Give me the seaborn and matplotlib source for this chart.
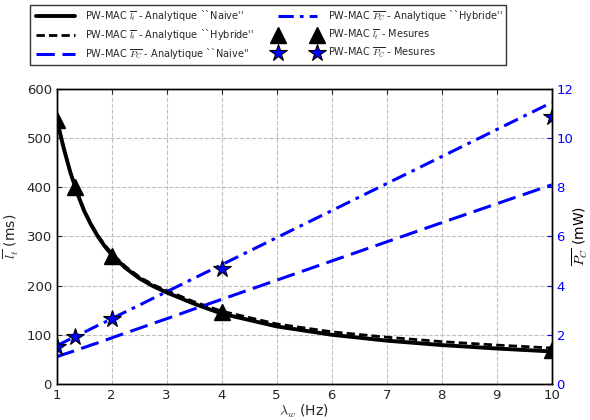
import numpy as np
import pandas as pd
import matplotlib as mpl
mpl.use("Agg")
import matplotlib.pyplot as plt
import seaborn as sns

# ── Data ────────────────────────────────────────────────────────────────────
LAMBDA = [1, 1.125, 1.25, 1.375, 1.5, 1.625, 1.75, 1.875, 2, 2.25, 2.5, 2.75, 3, 3.5, 4,
          5, 6, 7, 8, 9, 10]
LT_NAIVE = [540, 481, 430, 388, 352, 324, 300, 280, 263, 236, 215, 199, 186, 163, 143,
            117, 100, 88, 79, 72, 66]
LT_HYBRID = [540, 482, 431, 390, 354, 326, 302, 283, 266, 239, 218, 202, 190, 167, 148,
             122, 106, 95, 86, 79, 73]
PC_NAIVE = [1.10, 1.20, 1.29, 1.39, 1.48, 1.58, 1.67, 1.77, 1.87, 2.07, 2.26, 2.46, 2.65,
            3.05, 3.44, 4.22, 5.00, 5.78, 6.56, 7.33, 8.10]
PC_HYBRID = [1.55, 1.69, 1.83, 1.96, 2.10, 2.24, 2.38, 2.51, 2.65, 2.93, 3.20, 3.48, 3.75,
             4.30, 4.85, 5.95, 7.05, 8.15, 9.25, 10.35, 11.45]

LAMBDA_MES = [1, 1.33, 2, 4, 10]
LT_MES = [537, 400, 261, 147, 69]
PC_MES = [1.50, 1.92, 2.63, 4.67, 10.87]

LABELS = [
    r"PW-MAC $\overline{l_t}$ - Analytique ``Naive''",
    r"PW-MAC $\overline{l_t}$ - Analytique ``Hybride''",
    r"PW-MAC $\overline{P_C}$ - Analytique ``Naive''",
    r"PW-MAC $\overline{P_C}$ - Analytique ``Hybride''",
    r"PW-MAC $\overline{l_t}$ - Mesures",
    r"PW-MAC $\overline{P_C}$ - Mesures",
]

# ── Style ───────────────────────────────────────────────────────────────────
sns.set_style("white")
mpl.rcParams.update({
    "font.family": ["DejaVu Sans"],
    "mathtext.fontset": "cm",
    "font.size": 10,
    "axes.edgecolor": "black",
    "axes.linewidth": 1.0,
    "xtick.direction": "in",
    "ytick.direction": "in",
})

curves = pd.DataFrame({"lam": LAMBDA, "lt_n": LT_NAIVE, "lt_h": LT_HYBRID,
                       "pc_n": PC_NAIVE, "pc_h": PC_HYBRID})
mes = pd.DataFrame({"lam": LAMBDA_MES, "lt": LT_MES, "pc": PC_MES})

fig = plt.figure(figsize=(5.9, 4.2), dpi=100)
ax = fig.add_axes([0.096, 0.086, 0.839, 0.702])
ax2 = ax.twinx()

sns.lineplot(data=curves, x="lam", y="lt_n", ax=ax, color="black", lw=2.8, label=LABELS[0])
sns.lineplot(data=curves, x="lam", y="lt_h", ax=ax, color="black", lw=2.0,
             linestyle=(0, (3, 1.5)), label=LABELS[1])
ax.plot(mes["lam"], mes["lt"], ls="none", marker="^", ms=11, color="black",
        label=LABELS[4])

sns.lineplot(data=curves, x="lam", y="pc_n", ax=ax2, color="blue", lw=2.2,
             linestyle=(0, (6, 2.5)), label=LABELS[2])
sns.lineplot(data=curves, x="lam", y="pc_h", ax=ax2, color="blue", lw=2.2,
             linestyle=(0, (5, 2, 1.2, 2)), label=LABELS[3])
ax2.plot(mes["lam"], mes["pc"], ls="none", marker="*", ms=13, color="blue",
         mec="black", mew=0.8, label=LABELS[5])

ax.set_xlim(1, 10)
ax.set_ylim(0, 600)
ax2.set_ylim(0, 12)
ax.set_xticks(range(1, 11))
ax.set_yticks(range(0, 601, 100))
ax2.set_yticks(range(0, 13, 2))
ax.grid(True, color="0.75", ls="--", lw=0.8)
ax.set_axisbelow(True)
ax.tick_params(labelsize=9.5, top=True)
ax2.tick_params(labelsize=9.5, colors="blue")
ax2.spines["right"].set_color("black")
ax.set_xlabel(r"$\lambda_w$ (Hz)", fontsize=10, labelpad=1)
ax.set_ylabel(r"$\overline{l_t}$ (ms)", fontsize=10, labelpad=4)
ax2.set_ylabel(r"$\overline{P_C}$ (mW)", fontsize=10, color="black", labelpad=-2)

h1, l1 = ax.get_legend_handles_labels()
h2, l2 = ax2.get_legend_handles_labels()
for a in (ax, ax2):
    if a.get_legend():
        a.get_legend().remove()
hmap = dict(zip(l1 + l2, h1 + h2))
fig.legend([hmap[k] for k in LABELS], LABELS, ncol=2, numpoints=2,
           loc="upper left", bbox_to_anchor=(0.05, 0.988), borderaxespad=0,
           fontsize=7, frameon=True, fancybox=False, edgecolor="black",
           handlelength=4.6, labelspacing=0.4, columnspacing=2.1, borderpad=0.35)

fig.savefig("out.png", dpi=100)
